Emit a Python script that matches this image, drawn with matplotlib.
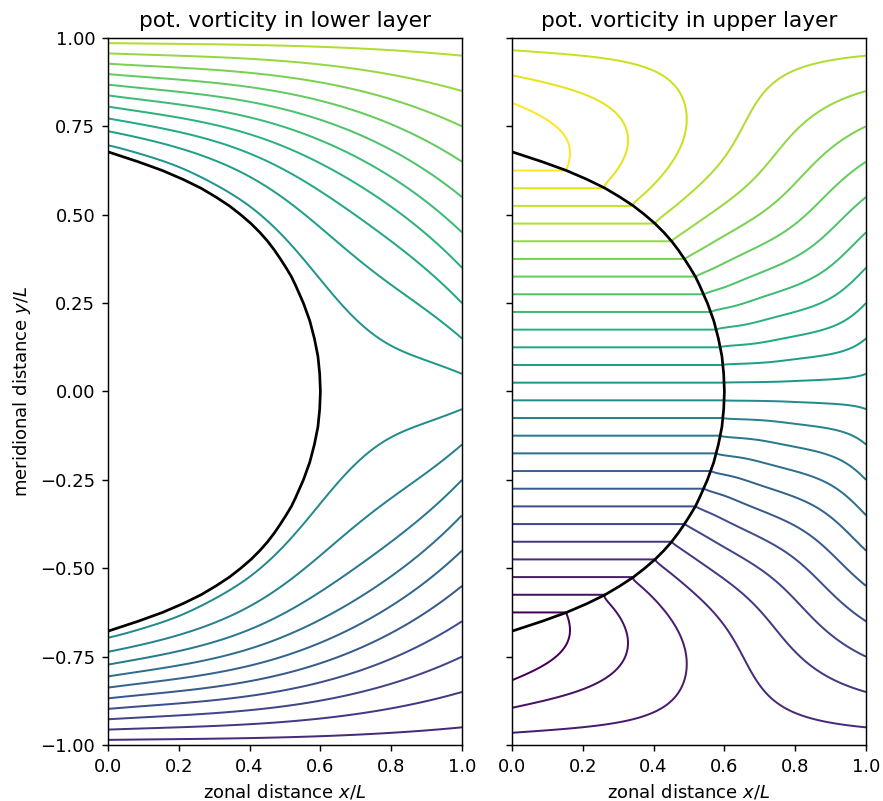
import numpy as np
import matplotlib
matplotlib.use("Agg")
import matplotlib.pyplot as plt
from matplotlib.colors import Normalize

# ---- values -----------------------------------------------------------
# boundary of the stagnant (Taylor-column) region, upper half
boundary_y = [0.0, 0.05, 0.10, 0.15, 0.20, 0.25, 0.30, 0.325, 0.35, 0.375,
              0.40, 0.425, 0.45, 0.475, 0.50, 0.525, 0.55, 0.575, 0.60,
              0.625, 0.65, 0.678]
boundary_x = [0.600, 0.598, 0.593, 0.583, 0.570, 0.552, 0.530, 0.518, 0.503,
              0.487, 0.470, 0.451, 0.429, 0.404, 0.375, 0.343, 0.305, 0.263,
              0.212, 0.154, 0.085, 0.0]
# uplift of the lower-layer PV contours, as a fraction of the gap to y=1
uplift_x = [0.0, 0.2, 0.4, 0.6, 0.8, 0.9, 1.0]
uplift_v = [0.71, 0.67, 0.61, 0.50, 0.32, 0.17, 0.0]
# relative reduction of that uplift right next to the column / in its lee
lee_x = [0.0, 0.2, 0.4, 0.5, 0.6, 0.7, 0.8, 0.9, 1.0]
lee_v = [-0.045, -0.09, -0.22, -0.35, -0.55, -0.80, -0.97, -1.0, -1.0]
lee_decay = 0.20          # PV range over which the lee reduction fades
lee_onset = 0.015         # PV range over which the exact column edge fades
# contour levels of potential vorticity (shared colour scale)
pv_levels = [-1.25, -1.15, -1.05, -0.95, -0.85, -0.75, -0.65, -0.55, -0.45,
             -0.35, -0.25, -0.15, -0.05, 0.05, 0.15, 0.25, 0.35, 0.45, 0.55,
             0.65, 0.75, 0.85, 0.95, 1.05, 1.15, 1.25]
x_ticks = [0.0, 0.2, 0.4, 0.6, 0.8, 1.0]
y_ticks = [-1.0, -0.75, -0.5, -0.25, 0.0, 0.25, 0.5, 0.75, 1.0]

# ---- lower-layer PV field ----------------------------------------------
# the contour of level q lies at y = q + (1-q) * E(x) * (1 + H(x,q))
bx = np.array(boundary_x)
by = np.array(boundary_y)
e_coef = np.polyfit(uplift_x, uplift_v, 3)


def b_of(x):
    return np.interp(x, bx[::-1], by[::-1], right=0.0)


def e_of(x):
    return np.polyval(e_coef, x) - np.polyval(e_coef, 1.0) * x ** 3


def edge_of(x):
    e = np.maximum(e_of(x), 1e-6)
    return b_of(x) / e - 1.0


def lee_of(x):
    return np.interp(x, lee_x, lee_v)


xf = np.linspace(0, 1, 4001)
N = 400
kn = np.arange(N) * np.pi
cosf = np.cos(np.outer(kn, xf))


def cos_coeffs(f):
    cn = 2 * np.trapezoid(f * cosf, xf, axis=1)
    cn[0] *= 0.5
    return cn


l_n = cos_coeffs(lee_of(xf))
g_n = cos_coeffs(edge_of(xf) - lee_of(xf))

nq = 401
qg = np.linspace(0, 1, nq)
tau = 0.03
damp = np.exp(-np.outer(qg, kn ** 2) * tau)          # (nq, N)

nx = 241
xg = np.linspace(0, 1, nx)
cosg = np.cos(np.outer(kn, xg))
lee_part = (damp * l_n) @ cosg
edge_part = ((damp * g_n) @ cosg) * np.exp(-qg / lee_onset)[:, None]
Hq = (lee_part + edge_part) * np.exp(-qg / lee_decay)[:, None]
Hq[0, :] = edge_of(xg)
D = e_of(xg)[None, :] * (1.0 + Hq)
Ypos = qg[:, None] + (1 - qg[:, None]) * D
Ypos[0, :] = b_of(xg)
Ypos = np.maximum.accumulate(Ypos, axis=0)

ny = 401
yv = np.linspace(0, 1, ny)
ql = np.zeros((ny, nx))
for i in range(nx):
    ql[:, i] = np.interp(yv, Ypos[:, i], qg, left=0.0, right=1.0)

y_full = np.concatenate([-yv[:0:-1], yv])
q_lower = np.concatenate([-ql[:0:-1], ql])
q_upper = 2 * y_full[:, None] - q_lower

# ---- figure -------------------------------------------------------------
DPI = 130
W, H = 883.0, 801.0
fig = plt.figure(figsize=(W / DPI, H / DPI), dpi=DPI)
ax1 = fig.add_axes([108 / W, 56 / H, 354 / W, 707 / H])
ax2 = fig.add_axes([512 / W, 56 / H, 354 / W, 707 / H])
norm = Normalize(vmin=min(pv_levels), vmax=max(pv_levels))

curve_x = np.concatenate([bx[::-1], bx[1:]])
curve_y = np.concatenate([-by[::-1], by[1:]])

for ax, field, title in [(ax1, q_lower, "pot. vorticity in lower layer"),
                         (ax2, q_upper, "pot. vorticity in upper layer")]:
    ax.contour(xg, y_full, field, levels=pv_levels, cmap="viridis",
               norm=norm, linewidths=1.1)
    ax.plot(curve_x, curve_y, color="black", lw=1.5)
    ax.set_xlim(0, 1)
    ax.set_ylim(-1, 1)
    ax.set_xticks(x_ticks)
    ax.set_yticks(y_ticks)
    ax.set_xlabel("zonal distance $x/L$")
    ax.set_title(title)

ax1.set_ylabel("meridional distance $y/L$")
ax2.tick_params(labelleft=False)

fig.savefig("out.png", dpi=DPI)
